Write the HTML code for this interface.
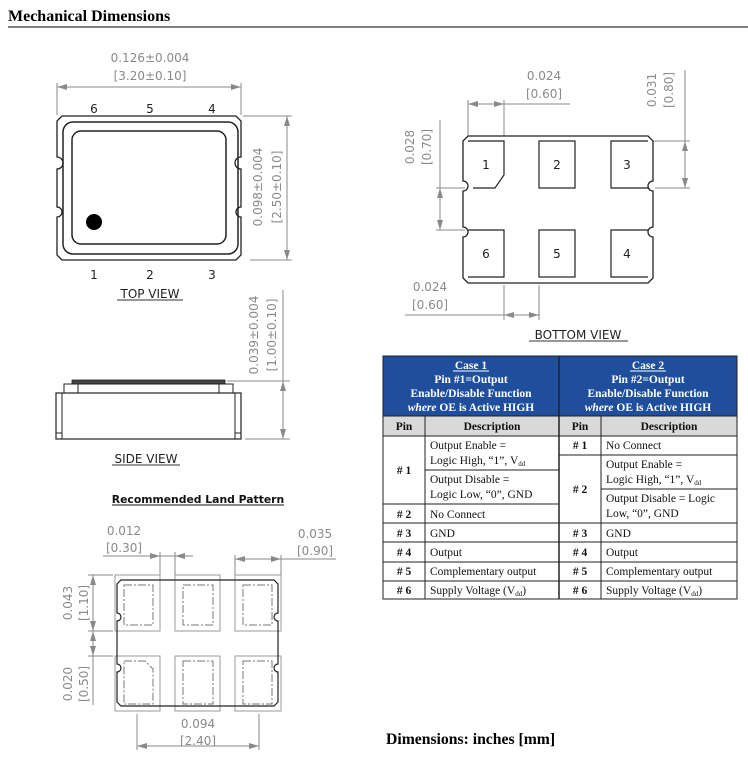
<!DOCTYPE html>
<html><head><meta charset="utf-8"><style>
html,body{margin:0;padding:0;background:#fff;width:748px;height:766px;overflow:hidden}
svg{display:block}
.g{fill:#8a8a8a;font-family:"DejaVu Sans","Liberation Sans",sans-serif;font-size:12px}
.k{fill:#222;font-family:"DejaVu Sans","Liberation Sans",sans-serif;font-size:12px}
.t{font-family:"Liberation Serif",serif;font-size:11.5px;fill:#111}
.tb{font-family:"Liberation Serif",serif;font-size:11.5px;fill:#111;font-weight:bold}
.th{font-family:"Liberation Serif",serif;font-size:11.5px;fill:#fff;font-weight:bold}
.dl{stroke:#8a8a8a;stroke-width:1;fill:none}
</style></head><body>
<svg width="748" height="766" viewBox="0 0 748 766" xmlns="http://www.w3.org/2000/svg">
<defs>
<marker id="a" viewBox="0 0 10 6" refX="10" refY="3" markerWidth="10" markerHeight="6" orient="auto-start-reverse" markerUnits="userSpaceOnUse"><path d="M0,0 L10,3 L0,6z" fill="#8a8a8a"/></marker>
</defs>
<text x="8" y="21" font-family="Liberation Serif,serif" font-size="16" font-weight="bold" fill="#000">Mechanical Dimensions</text>
<line x1="8" y1="27" x2="748" y2="27" stroke="#555" stroke-width="1.5"/>

<!-- TOP VIEW -->
<text class="g" x="150" y="62" text-anchor="middle">0.126±0.004</text>
<text class="g" x="150" y="80" text-anchor="middle">[3.20±0.10]</text>
<line class="dl" x1="57" y1="83" x2="57" y2="115"/><line class="dl" x1="241" y1="83" x2="241" y2="115"/>
<line class="dl" x1="57" y1="87" x2="241" y2="87" marker-start="url(#a)" marker-end="url(#a)"/>
<text class="k" x="94" y="113" text-anchor="middle">6</text><text class="k" x="150" y="113" text-anchor="middle">5</text><text class="k" x="212" y="113" text-anchor="middle">4</text>
<path d="M62,116 H236 L241,121 V157 A5,5 0 0 0 241,169 V207 A5,5 0 0 0 241,217 V255 L236,260 H62 L57,255 V217 A5,5 0 0 0 57,207 V169 A5,5 0 0 0 57,157 V121 Z" fill="#fff" stroke="#222" stroke-width="1.3"/>
<rect x="63" y="122" width="175" height="132" rx="10" fill="none" stroke="#222" stroke-width="1.5"/>
<rect x="72" y="131" width="154" height="113" rx="9" fill="none" stroke="#222" stroke-width="1.5"/>
<circle cx="94" cy="222" r="8" fill="#000"/>
<text class="k" x="94" y="279" text-anchor="middle">1</text><text class="k" x="150" y="279" text-anchor="middle">2</text><text class="k" x="212" y="279" text-anchor="middle">3</text>
<line class="dl" x1="243" y1="116" x2="292" y2="116"/><line class="dl" x1="250" y1="260" x2="292" y2="260"/>
<line class="dl" x1="287" y1="116" x2="287" y2="260" marker-start="url(#a)" marker-end="url(#a)"/>
<text class="g" transform="translate(262,187) rotate(-90)" text-anchor="middle">0.098±0.004</text>
<text class="g" transform="translate(281,187) rotate(-90)" text-anchor="middle">[2.50±0.10]</text>
<text class="k" x="150" y="298" text-anchor="middle" fill="#333">TOP VIEW</text>
<line x1="117" y1="300" x2="183" y2="300" stroke="#333"/>

<!-- SIDE VIEW -->
<text class="g" transform="translate(258,335) rotate(-90)" text-anchor="middle">0.039±0.004</text>
<text class="g" transform="translate(276,335) rotate(-90)" text-anchor="middle">[1.00±0.10]</text>
<line class="dl" x1="227" y1="381" x2="290" y2="381"/><line class="dl" x1="245" y1="439" x2="290" y2="439"/>
<line class="dl" x1="283" y1="290" x2="283" y2="439"/>
<line class="dl" x1="283" y1="381" x2="283" y2="439" marker-start="url(#a)" marker-end="url(#a)"/>
<rect x="72" y="380" width="153" height="4" fill="#444" stroke="#222" stroke-width="0.8"/>
<rect x="64" y="384" width="169" height="9" fill="#fff" stroke="#222" stroke-width="1"/>
<line x1="78" y1="384" x2="78" y2="393" stroke="#222"/><line x1="219" y1="384" x2="219" y2="393" stroke="#222"/>
<rect x="56" y="393" width="185" height="46" fill="#fff" stroke="#222" stroke-width="1.2"/>
<line x1="62" y1="393" x2="62" y2="439" stroke="#222"/><line x1="235" y1="393" x2="235" y2="439" stroke="#222"/>
<line x1="56" y1="433" x2="62" y2="433" stroke="#222"/><line x1="235" y1="433" x2="241" y2="433" stroke="#222"/>
<text class="k" x="146" y="463" text-anchor="middle" fill="#333">SIDE VIEW</text>
<line x1="112" y1="465" x2="180" y2="465" stroke="#333"/>

<!-- LAND PATTERN -->
<text x="198" y="503" text-anchor="middle" font-family="DejaVu Sans,Liberation Sans,sans-serif" font-size="10.8" font-weight="bold" fill="#111">Recommended Land Pattern</text>
<line x1="112" y1="505" x2="284" y2="505" stroke="#111"/>
<text class="g" x="124" y="535" text-anchor="middle">0.012</text><text class="g" x="124" y="552" text-anchor="middle">[0.30]</text>
<line class="dl" x1="103" y1="556" x2="193" y2="556"/>
<line class="dl" x1="145" y1="556" x2="160" y2="556" marker-end="url(#a)"/><line class="dl" x1="190" y1="556" x2="175" y2="556" marker-end="url(#a)"/>
<line class="dl" x1="160" y1="552" x2="160" y2="575"/><line class="dl" x1="175" y1="552" x2="175" y2="575"/>
<text class="g" x="315" y="538" text-anchor="middle">0.035</text><text class="g" x="315" y="555" text-anchor="middle">[0.90]</text>
<line class="dl" x1="235" y1="559" x2="336" y2="559"/>
<line class="dl" x1="235" y1="559" x2="281" y2="559" marker-start="url(#a)" marker-end="url(#a)"/>
<line class="dl" x1="235" y1="555" x2="235" y2="575"/><line class="dl" x1="281" y1="555" x2="281" y2="575"/>
<text class="g" transform="translate(72,603) rotate(-90)" text-anchor="middle">0.043</text>
<text class="g" transform="translate(88,603) rotate(-90)" text-anchor="middle">[1.10]</text>
<text class="g" transform="translate(72,684) rotate(-90)" text-anchor="middle">0.020</text>
<text class="g" transform="translate(88,684) rotate(-90)" text-anchor="middle">[0.50]</text>
<line class="dl" x1="88" y1="575" x2="113" y2="575"/><line class="dl" x1="88" y1="631" x2="113" y2="631"/><line class="dl" x1="88" y1="656" x2="113" y2="656"/>
<line class="dl" x1="93" y1="575" x2="93" y2="631" marker-start="url(#a)" marker-end="url(#a)"/>
<line class="dl" x1="93" y1="631" x2="93" y2="656" marker-start="url(#a)" marker-end="url(#a)"/>
<line class="dl" x1="93" y1="656" x2="93" y2="705"/>
<g fill="none" stroke="#999" stroke-width="1">
<rect x="115" y="575" width="45" height="56"/><rect x="175" y="575" width="45" height="56"/><rect x="235" y="575" width="46" height="56"/>
<rect x="115" y="656" width="45" height="55"/><rect x="175" y="656" width="45" height="55"/><rect x="235" y="656" width="46" height="55"/>
</g>
<g fill="none" stroke="#777" stroke-width="1" stroke-dasharray="8,2,2,2">
<rect x="124" y="585" width="29" height="40"/><rect x="183" y="585" width="30" height="40"/><rect x="243" y="585" width="29" height="40"/>
<path d="M124,661 H145 L153,669 V704 H124 Z"/><rect x="183" y="661" width="30" height="43"/><rect x="243" y="661" width="29" height="43"/>
</g>
<path d="M121,580 H274 L278,584 V613 A4,4 0 0 0 278,621 V664 A4,4 0 0 0 278,672 V702 L274,706 H121 L117,702 V672 A4,4 0 0 0 117,664 V621 A4,4 0 0 0 117,613 V584 Z" fill="none" stroke="#222" stroke-width="1.2"/>
<text class="g" x="198" y="728" text-anchor="middle">0.094</text><text class="g" x="198" y="745" text-anchor="middle">[2.40]</text>
<line class="dl" x1="137" y1="714" x2="137" y2="750"/><line class="dl" x1="259" y1="714" x2="259" y2="750"/>
<line class="dl" x1="137" y1="746" x2="259" y2="746" marker-start="url(#a)" marker-end="url(#a)"/>

<!-- BOTTOM VIEW -->
<text class="g" x="544" y="80" text-anchor="middle">0.024</text><text class="g" x="544" y="98" text-anchor="middle">[0.60]</text>
<line class="dl" x1="468" y1="104" x2="570" y2="104"/>
<line class="dl" x1="468" y1="104" x2="504" y2="104" marker-start="url(#a)" marker-end="url(#a)"/>
<line class="dl" x1="468" y1="100" x2="468" y2="136"/><line class="dl" x1="504" y1="100" x2="504" y2="136"/>
<text class="g" transform="translate(414,147) rotate(-90)" text-anchor="middle">0.028</text>
<text class="g" transform="translate(431,147) rotate(-90)" text-anchor="middle">[0.70]</text>
<line class="dl" x1="440" y1="120" x2="440" y2="230"/>
<line class="dl" x1="440" y1="188" x2="440" y2="230" marker-start="url(#a)" marker-end="url(#a)"/>
<line class="dl" x1="436" y1="188" x2="465" y2="188"/><line class="dl" x1="436" y1="230" x2="465" y2="230"/>
<text class="g" transform="translate(656,90) rotate(-90)" text-anchor="middle">0.031</text>
<text class="g" transform="translate(673,90) rotate(-90)" text-anchor="middle">[0.80]</text>
<line class="dl" x1="685" y1="70" x2="685" y2="141"/>
<line class="dl" x1="685" y1="141" x2="685" y2="188" marker-start="url(#a)" marker-end="url(#a)"/>
<line class="dl" x1="648" y1="141" x2="690" y2="141"/><line class="dl" x1="655" y1="188" x2="690" y2="188"/>
<path d="M468,136 H648 L653,141 V181 A5,5 0 0 0 653,191 V227 A5,5 0 0 0 653,237 V278 L648,283 H468 L463,278 V237 A5,5 0 0 0 463,227 V191 A5,5 0 0 0 463,181 V141 Z" fill="#fff" stroke="#222" stroke-width="1.3"/>
<g fill="none" stroke="#222" stroke-width="1.2">
<path d="M468,141 H504 V175 L495,188 H473"/><rect x="539" y="141" width="36" height="47"/><path d="M648,141 H611 V188 H648"/>
<path d="M468,230 H504 V277 H468"/><rect x="539" y="230" width="36" height="47"/><path d="M648,230 H611 V277 H648"/>
</g>
<text class="k" x="486" y="169" text-anchor="middle">1</text><text class="k" x="557" y="169" text-anchor="middle">2</text><text class="k" x="627" y="169" text-anchor="middle">3</text>
<text class="k" x="486" y="258" text-anchor="middle">6</text><text class="k" x="557" y="258" text-anchor="middle">5</text><text class="k" x="627" y="258" text-anchor="middle">4</text>
<text class="g" x="430" y="291" text-anchor="middle">0.024</text><text class="g" x="430" y="309" text-anchor="middle">[0.60]</text>
<line class="dl" x1="405" y1="315" x2="540" y2="315"/>
<line class="dl" x1="504" y1="315" x2="539" y2="315" marker-start="url(#a)" marker-end="url(#a)"/>
<line class="dl" x1="504" y1="285" x2="504" y2="320"/><line class="dl" x1="539" y1="285" x2="539" y2="320"/>
<text class="k" x="578" y="339" text-anchor="middle" fill="#333">BOTTOM VIEW</text>
<line x1="529" y1="341" x2="628" y2="341" stroke="#333"/>

<!-- TABLE -->
<rect x="383" y="356" width="354" height="60" fill="#1f4f9c"/>
<rect x="383" y="416" width="354" height="20" fill="#d9d9d9"/>
<g text-anchor="middle">
<text class="th" x="471" y="369">Case 1</text>
<line x1="453" y1="371" x2="489" y2="371" stroke="#fff"/>
<text class="th" x="471" y="383">Pin #1=Output</text>
<text class="th" x="471" y="397">Enable/Disable Function</text>
<text class="th" x="471" y="411"><tspan font-style="italic">where</tspan> OE is Active HIGH</text>
<text class="th" x="648" y="369">Case 2</text>
<line x1="630" y1="371" x2="666" y2="371" stroke="#fff"/>
<text class="th" x="648" y="383">Pin #2=Output</text>
<text class="th" x="648" y="397">Enable/Disable Function</text>
<text class="th" x="648" y="411"><tspan font-style="italic">where</tspan> OE is Active HIGH</text>
<text class="tb" x="404" y="430">Pin</text><text class="tb" x="492" y="430">Description</text>
<text class="tb" x="580" y="430">Pin</text><text class="tb" x="669" y="430">Description</text>
<text class="tb" x="404" y="474"># 1</text><text class="tb" x="404" y="518"># 2</text>
<text class="tb" x="404" y="537"># 3</text><text class="tb" x="404" y="556"># 4</text><text class="tb" x="404" y="575"># 5</text><text class="tb" x="404" y="594"># 6</text>
<text class="tb" x="580" y="449"># 1</text><text class="tb" x="580" y="493"># 2</text>
<text class="tb" x="580" y="537"># 3</text><text class="tb" x="580" y="556"># 4</text><text class="tb" x="580" y="575"># 5</text><text class="tb" x="580" y="594"># 6</text>
</g>
<text class="t" x="430" y="449">Output Enable =</text>
<text class="t" x="430" y="464">Logic High, “1”, V<tspan font-size="7" dy="2">dd</tspan></text>
<text class="t" x="430" y="483">Output Disable =</text>
<text class="t" x="430" y="498">Logic Low, “0”, GND</text>
<text class="t" x="430" y="518">No Connect</text>
<text class="t" x="430" y="537">GND</text><text class="t" x="430" y="556">Output</text>
<text class="t" x="430" y="575">Complementary output</text>
<text class="t" x="430" y="594">Supply Voltage (V<tspan font-size="7" dy="2">dd</tspan><tspan dy="-2">)</tspan></text>
<text class="t" x="606" y="449">No Connect</text>
<text class="t" x="606" y="468">Output Enable =</text>
<text class="t" x="606" y="483">Logic High, “1”, V<tspan font-size="7" dy="2">dd</tspan></text>
<text class="t" x="606" y="502">Output Disable = Logic</text>
<text class="t" x="606" y="517">Low, “0”, GND</text>
<text class="t" x="606" y="537">GND</text><text class="t" x="606" y="556">Output</text>
<text class="t" x="606" y="575">Complementary output</text>
<text class="t" x="606" y="594">Supply Voltage (V<tspan font-size="7" dy="2">dd</tspan><tspan dy="-2">)</tspan></text>
<g stroke="#222" stroke-width="1" fill="none">
<rect x="383" y="356" width="354" height="243"/>
<line x1="559" y1="356" x2="559" y2="599" stroke-width="1.5"/>
<line x1="425" y1="416" x2="425" y2="599"/><line x1="601" y1="416" x2="601" y2="599"/>
<line x1="383" y1="416" x2="737" y2="416"/><line x1="383" y1="436" x2="737" y2="436"/>
<line x1="425" y1="470" x2="559" y2="470"/><line x1="383" y1="504" x2="559" y2="504"/>
<line x1="559" y1="455" x2="737" y2="455"/><line x1="601" y1="489" x2="737" y2="489"/>
<line x1="383" y1="523" x2="737" y2="523"/><line x1="383" y1="542" x2="737" y2="542"/>
<line x1="383" y1="562" x2="737" y2="562"/><line x1="383" y1="581" x2="737" y2="581"/>
</g>

<text x="386" y="744" font-family="Liberation Serif,serif" font-size="15.7" font-weight="bold" fill="#000">Dimensions: inches [mm]</text>
</svg>
</body></html>
